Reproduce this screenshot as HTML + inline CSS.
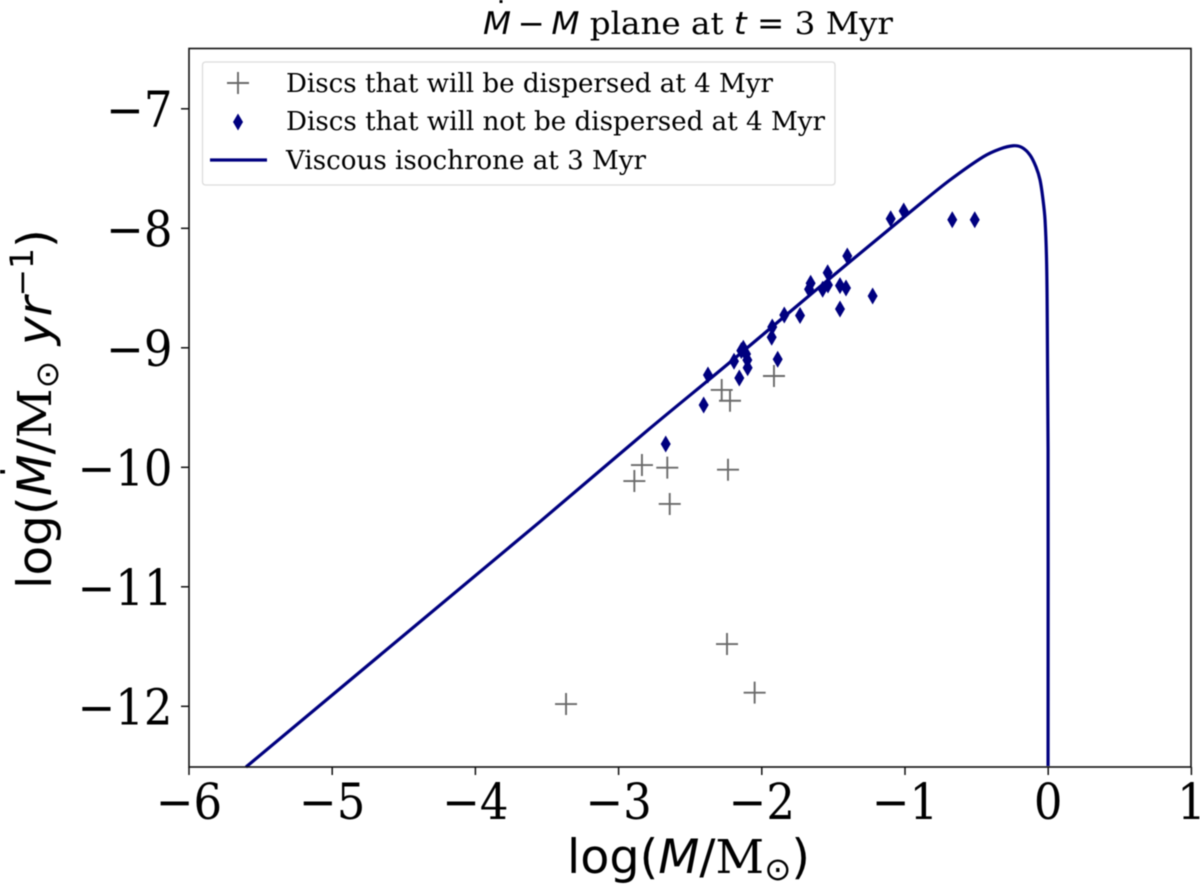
<!DOCTYPE html>
<html lang="en">
<head>
<meta charset="utf-8">
<title>Mdot-M plane at t = 3 Myr</title>
<style>
html,body{margin:0;padding:0;background:#fff;}
svg{display:block;filter:blur(0.4px);}
text{font-family:"DejaVu Serif","Liberation Serif",serif;fill:#000;}
.sans{font-family:"DejaVu Sans","Liberation Sans",sans-serif;}
.it{font-family:"DejaVu Sans","Liberation Sans",sans-serif;font-style:italic;}
</style>
</head>
<body>
<svg id="chart" xmlns="http://www.w3.org/2000/svg" width="1200" height="884" viewBox="0 0 1200 884">
  <rect x="0" y="0" width="1200" height="884" fill="#fff"/>
  <g id="marks"></g>
  <g id="axes"></g>
  <rect x="189" y="48.5" width="1002" height="718.5" fill="none" stroke="#111" stroke-width="1.6"/>

  <text x="483" y="34" font-size="31" textLength="410" lengthAdjust="spacingAndGlyphs"><tspan class="it">M</tspan><tspan class="sans">&#8201;−&#8201;</tspan><tspan class="it">M</tspan> plane at <tspan class="it">t</tspan><tspan class="sans"> = </tspan>3 Myr</text>
  <rect x="499.500" y="0" width="3" height="3" fill="#000"/>

  <text x="567" y="873" font-size="47" textLength="243" lengthAdjust="spacingAndGlyphs"><tspan class="sans">log(</tspan><tspan class="it">M</tspan><tspan class="sans">/</tspan>M<tspan class="sans" font-size="32" dy="7">⊙</tspan><tspan class="sans" dy="-7">)</tspan></text>

  <text transform="translate(51,589) rotate(-90)" x="0" y="0" font-size="47" textLength="360" lengthAdjust="spacingAndGlyphs"><tspan class="sans">log(</tspan><tspan class="it">M</tspan><tspan class="sans">/</tspan>M<tspan class="sans" font-size="32" dy="7">⊙</tspan><tspan class="it" dy="-7"> yr</tspan><tspan class="sans" font-size="32" dy="-18">−1</tspan><tspan class="sans" dy="18">)</tspan></text>
  <rect x="0" y="470" width="5" height="3.500" fill="#000"/>

  <g id="legend">
    <rect x="202.500" y="62" width="632.500" height="123" rx="3" fill="#fff" fill-opacity="0.9" stroke="#dcdcdc" stroke-width="1.3"/>
    <g>
      <path d="M227 83H249M238 72V94" stroke="#6a6a6a" stroke-width="1.9" fill="none"/>
      <text x="286" y="92" font-size="26" textLength="487" lengthAdjust="spacingAndGlyphs">Discs that will be dispersed at 4 Myr</text>
    </g>
    <g>
      <path d="M238 113.500L243 122L238 130.500L233 122Z" fill="#00007f"/>
      <text x="286" y="130" font-size="26" textLength="539" lengthAdjust="spacingAndGlyphs">Discs that will not be dispersed at 4 Myr</text>
    </g>
    <g>
      <path d="M210 160H267" stroke="#00007f" stroke-width="3.200" fill="none"/>
      <text x="286" y="169" font-size="26" textLength="360" lengthAdjust="spacingAndGlyphs">Viscous isochrone at 3 Myr</text>
    </g>
  </g>
</svg>
<script>
var xTicks = [-6, -5, -4, -3, -2, -1, 0, 1];
var yTicks = [-7, -8, -9, -10, -11, -12];

var dispersedMass = [-2.280, -2.222, -1.915, -2.837, -2.660, -2.890, -2.236, -2.643, -2.243, -2.050, -3.367];
var dispersedRate = [-9.353, -9.443, -9.236, -9.981, -10.003, -10.115, -10.020, -10.307, -11.479, -11.886, -11.981];

var retainedMass = [-2.671, -2.406, -2.376, -2.194, -2.157, -2.099, -2.101, -2.129, -2.143, -2.110, -1.927, -1.931, -1.889, -1.843, -1.733, -1.670, -1.659, -1.575, -1.538, -1.540, -1.454, -1.412, -1.454, -1.226, -1.403, -1.100, -1.009, -0.670, -0.513];
var retainedRate = [-9.805, -9.479, -9.228, -9.113, -9.253, -9.167, -9.102, -9.004, -9.024, -9.052, -8.826, -8.912, -9.096, -8.726, -8.730, -8.510, -8.460, -8.510, -8.474, -8.372, -8.480, -8.500, -8.675, -8.567, -8.232, -7.920, -7.855, -7.928, -7.928];

var isochroneMass = [-5.602, -3.549, -2.781, -2.245, -1.733, -1.384, -0.918, -0.686, -0.453, -0.337, -0.244, -0.183, -0.127, -0.085, -0.057, -0.036, -0.022, -0.011, -0.006, -0.001, -0.001];
var isochroneRate = [-12.508, -10.455, -9.674, -9.144, -8.628, -8.279, -7.819, -7.596, -7.401, -7.336, -7.309, -7.324, -7.387, -7.487, -7.596, -7.763, -7.931, -8.290, -8.851, -9.855, -12.500];

var SVG_NS = 'http://www.w3.org/2000/svg';

function xScale(v) { return 189 + (v + 6) * 143.2; }
function yScale(v) { return 228.3 + (-8 - v) * 119.5; }
function tickLabel(v) { return v < 0 ? '\u2212' + Math.abs(v) : String(v); }

var marks = document.getElementById('marks');
var axes = document.getElementById('axes');

xTicks.forEach(function (t) {
  var tick = document.createElementNS(SVG_NS, 'line');
  
  
  tick.setAttribute('x1', xScale(t));
  tick.setAttribute('x2', xScale(t));
  tick.setAttribute('y1', 767);
  tick.setAttribute('y2', 775);
  tick.setAttribute('stroke', '#111');
  tick.setAttribute('stroke-width', 1.5);
  axes.appendChild(tick);

  var label = document.createElementNS(SVG_NS, 'text');
  
  
  label.setAttribute('transform', 'translate(' + xScale(t) + ',819) scale(0.9,1)');
  label.setAttribute('text-anchor', 'middle');
  label.setAttribute('font-size', 50);
  label.textContent = tickLabel(t);
  axes.appendChild(label);
});

yTicks.forEach(function (t) {
  var tick = document.createElementNS(SVG_NS, 'line');
  
  
  tick.setAttribute('x1', 181);
  tick.setAttribute('x2', 189);
  tick.setAttribute('y1', yScale(t));
  tick.setAttribute('y2', yScale(t));
  tick.setAttribute('stroke', '#111');
  tick.setAttribute('stroke-width', 1.5);
  axes.appendChild(tick);

  var label = document.createElementNS(SVG_NS, 'text');
  
  
  label.setAttribute('transform', 'translate(172.500,' + (yScale(t) + 18) + ') scale(0.9,1)');
  label.setAttribute('text-anchor', 'end');
  label.setAttribute('font-size', 50);
  label.textContent = tickLabel(t);
  axes.appendChild(label);
});

function smoothPath(xs, ys) {
  var px = xs.map(xScale);
  var py = ys.map(yScale);
  var d = 'M' + px[0].toFixed(2) + ' ' + py[0].toFixed(2);
  for (var i = 0; i < px.length - 1; i++) {
    var a = Math.max(i - 1, 0);
    var b = Math.min(i + 2, px.length - 1);
    var h = Math.hypot(px[i + 1] - px[i], py[i + 1] - py[i]);
    var t0x = px[i + 1] - px[a], t0y = py[i + 1] - py[a];
    var t1x = px[b] - px[i], t1y = py[b] - py[i];
    var l0 = Math.hypot(t0x, t0y) || 1;
    var l1 = Math.hypot(t1x, t1y) || 1;
    d += 'C' + (px[i] + t0x / l0 * h / 3).toFixed(2) + ' ' + (py[i] + t0y / l0 * h / 3).toFixed(2) + ' ' +
      (px[i + 1] - t1x / l1 * h / 3).toFixed(2) + ' ' + (py[i + 1] - t1y / l1 * h / 3).toFixed(2) + ' ' +
      px[i + 1].toFixed(2) + ' ' + py[i + 1].toFixed(2);
  }
  return d;
}

var isochrone = document.createElementNS(SVG_NS, 'path');


isochrone.setAttribute('d', smoothPath(isochroneMass, isochroneRate));
isochrone.setAttribute('fill', 'none');
isochrone.setAttribute('stroke', '#00007f');
isochrone.setAttribute('stroke-width', 3.2);
isochrone.setAttribute('stroke-linejoin', 'round');
marks.appendChild(isochrone);

dispersedMass.forEach(function (m, i) {
  var cx = xScale(m);
  var cy = yScale(dispersedRate[i]);
  var plus = document.createElementNS(SVG_NS, 'path');
  
  
  plus.setAttribute('d', 'M' + (cx - 11) + ' ' + cy + 'H' + (cx + 11) + 'M' + cx + ' ' + (cy - 11) + 'V' + (cy + 11));
  plus.setAttribute('stroke', '#6a6a6a');
  plus.setAttribute('stroke-width', 1.9);
  plus.setAttribute('fill', 'none');
  marks.appendChild(plus);
});

retainedMass.forEach(function (m, i) {
  var cx = xScale(m);
  var cy = yScale(retainedRate[i]);
  var diamond = document.createElementNS(SVG_NS, 'path');
  
  
  diamond.setAttribute('d', 'M' + cx + ' ' + (cy - 8.5) + 'L' + (cx + 5) + ' ' + cy + 'L' + cx + ' ' + (cy + 8.5) + 'L' + (cx - 5) + ' ' + cy + 'Z');
  diamond.setAttribute('fill', '#00007f');
  marks.appendChild(diamond);
});
</script>
</body>
</html>
